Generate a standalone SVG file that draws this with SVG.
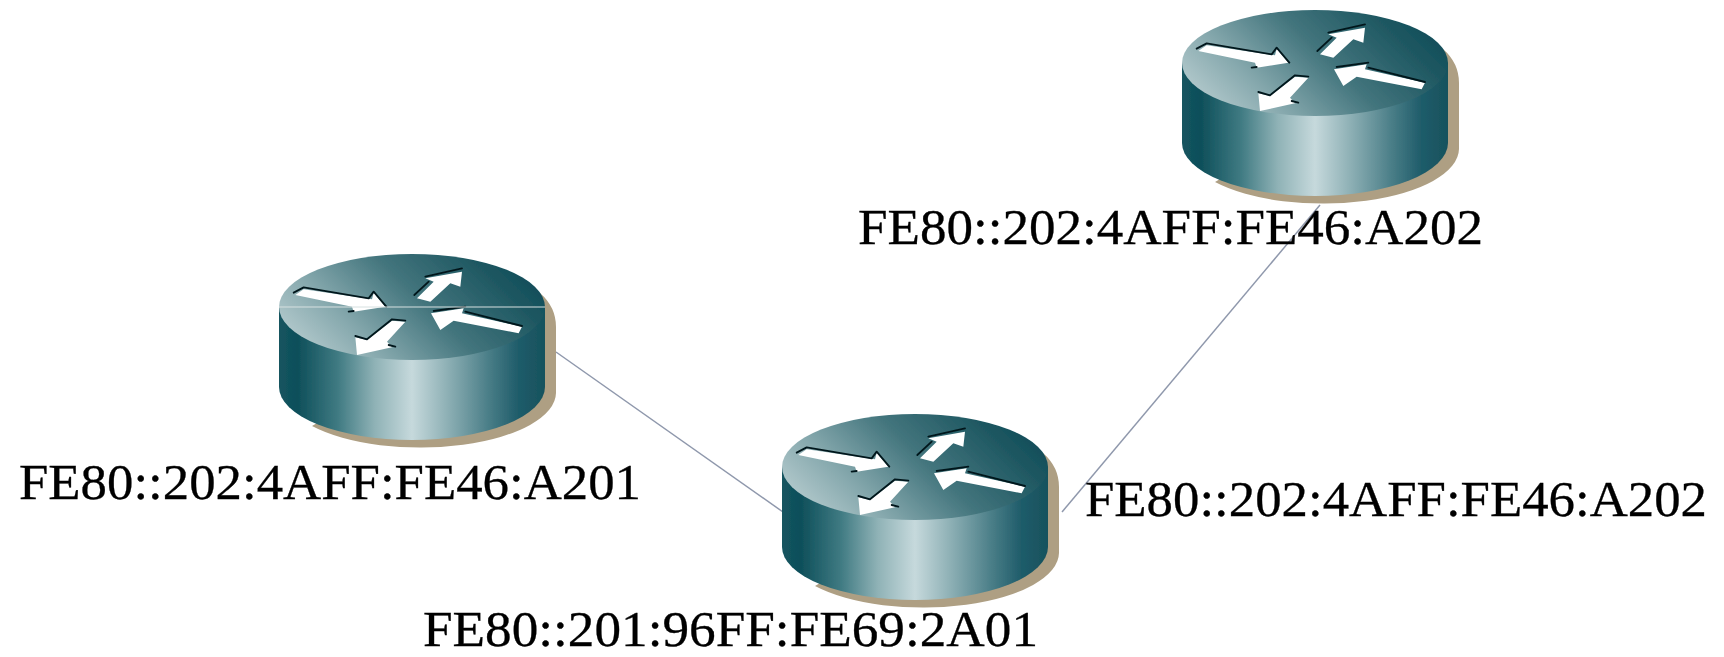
<svg xmlns="http://www.w3.org/2000/svg" width="1724" height="657" viewBox="0 0 1724 657">
<style>
.label{font-family:"Liberation Serif","Times New Roman",serif;font-size:50px;fill:#000;stroke:#000;stroke-width:.3}
.link{stroke:#8f98ac;stroke-width:1.5;fill:none}
.ink{fill:none;stroke:#03181c;stroke-width:5.5;stroke-linejoin:round;stroke-linecap:round}
.arrow{fill:#fff}
</style>
<defs>
<linearGradient id="topFill" x1="0" y1="0.7" x2="1" y2="0.3">
<stop offset="0" stop-color="#b4cacd"/><stop offset="0.25" stop-color="#84a7ac"/><stop offset="0.55" stop-color="#43757d"/><stop offset="0.85" stop-color="#1f5862"/><stop offset="1" stop-color="#0f4c58"/>
</linearGradient>
<linearGradient id="sideFill" x1="0" y1="0" x2="1" y2="0">
<stop offset="0" stop-color="#14545f"/><stop offset="0.07" stop-color="#0e4f5a"/><stop offset="0.22" stop-color="#3f7a82"/><stop offset="0.36" stop-color="#8fb2b6"/><stop offset="0.5" stop-color="#c6d9dc"/><stop offset="0.63" stop-color="#8fb1b6"/><stop offset="0.8" stop-color="#457a84"/><stop offset="0.9" stop-color="#1f5c6a"/><stop offset="1" stop-color="#17525d"/>
</linearGradient>
<filter id="soft" x="-5%" y="-5%" width="110%" height="110%"><feGaussianBlur stdDeviation="0.6"/></filter>
<g id="router" filter="url(#soft)">
<path d="M128 -14 Q144 0 144 20 L144 86 A136 55 0 0 1 -100 119 L0 60 Z" fill="#ae9f83"/>
<path d="M-133 0 L-133 80 A133 53 0 0 0 133 80 L133 0 Z" fill="url(#sideFill)"/>
<ellipse cx="0" cy="0" rx="133" ry="53" fill="url(#topFill)"/>
<g transform="scale(0.3333) translate(-456,-201)">
<polygon class="arrow" points="106,165 131,148 336,178 341,158 376,200 281,215 276,200"/>
<path class="ink" d="M101 158 L131 142 L326 175 L341 155 L379 200"/>
<path class="ink" d="M266 215 L281 213"/>
<polygon class="arrow" points="471,175 521,125 496,115 606,95 601,140 571,130 511,185"/>
<path class="ink" d="M496 110 L606 85"/>
<path class="ink" d="M463 165 L506 125"/>
<polygon class="arrow" points="513,220 611,205 606,220 786,260 776,280 581,242 541,270"/>
<path class="ink" d="M521 213 L616 200"/>
<path class="ink" d="M616 215 L786 258"/>
<polygon class="arrow" points="291,345 286,292 321,300 396,242 436,245 381,305 396,322"/>
<path class="ink" d="M286 288 L321 298 L396 238 L436 242"/>
<path class="ink" d="M386 315 L406 320"/>
</g>
</g>
</defs>
<g id="connectors">
<line class="link" x1="556" y1="352" x2="783" y2="512"/>
<line class="link" x1="1062" y1="512" x2="1320" y2="205"/>
</g>
<g id="node-a201">
<use href="#router" x="412" y="307"/>
<line x1="279" y1="307" x2="545" y2="307" stroke="#d6e0e0" stroke-width="1"/>
<text class="label" x="19" y="499" textLength="622" lengthAdjust="spacingAndGlyphs">FE80::202:4AFF:FE46:A201</text>
</g>
<g id="node-a202">
<use href="#router" x="1315" y="63"/>
<text class="label" x="858" y="244" textLength="625" lengthAdjust="spacingAndGlyphs">FE80::202:4AFF:FE46:A202</text>
</g>
<g id="node-2a01">
<use href="#router" x="915" y="467"/>
<text class="label" x="1085" y="516" textLength="622" lengthAdjust="spacingAndGlyphs">FE80::202:4AFF:FE46:A202</text>
<text class="label" x="423" y="646" textLength="615" lengthAdjust="spacingAndGlyphs">FE80::201:96FF:FE69:2A01</text>
</g>
</svg>
